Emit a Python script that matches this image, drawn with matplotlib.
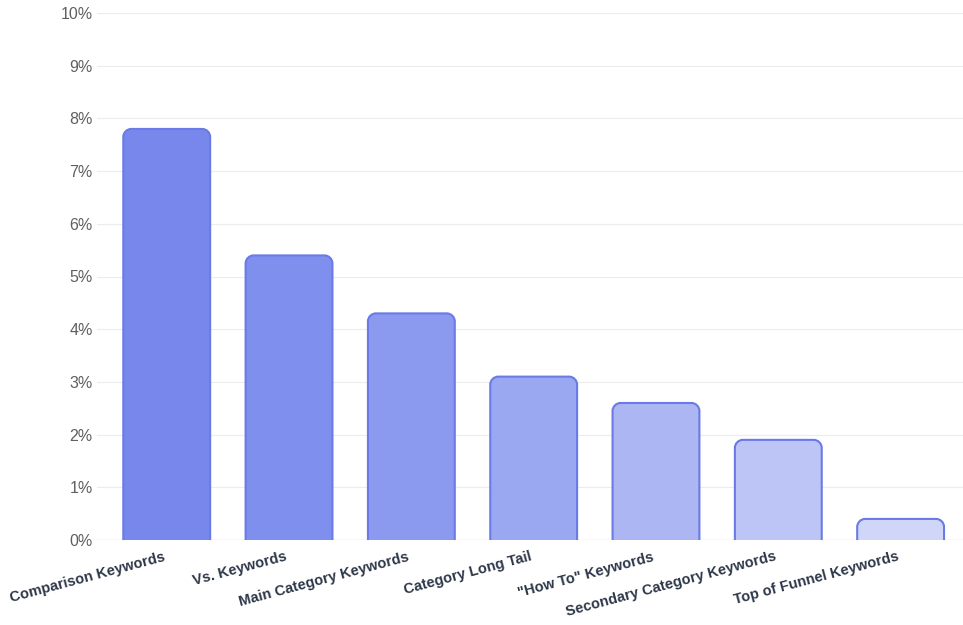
import matplotlib.pyplot as plt
import matplotlib.transforms as mtransforms
from matplotlib.path import Path
from matplotlib.patches import PathPatch

plt.rcParams["font.family"] = ["Liberation Sans", "DejaVu Sans"]

categories = ["Comparison Keywords", "Vs. Keywords", "Main Category Keywords",
              "Category Long Tail", "\"How To\" Keywords",
              "Secondary Category Keywords", "Top of Funnel Keywords"]
values = [7.8, 5.4, 4.3, 3.1, 2.6, 1.9, 0.4]
colors = ["#7787ec", "#7f8fee", "#8b9aef", "#9aa8f1", "#abb6f3", "#bcc5f5", "#d0d6f8"]

fig = plt.figure(figsize=(9.63, 6.25), dpi=100)
ax = fig.add_axes([97 / 963, 1 - 540 / 625, 866 / 963, 527 / 625])

ax.set_xlim(-0.57, 6.51)
ax.set_ylim(0, 10)

bars = ax.bar(range(len(values)), values, width=0.71, color="none", edgecolor="none")

# pixel -> data scale for rounded corners
px_x = (6.51 + 0.57) / 866
px_y = 10 / 527
r = 8
for b, c in zip(bars, colors):
    x0, w, h = b.get_x(), b.get_width(), b.get_height()
    x1 = x0 + w
    rx, ry = r * px_x, min(r * px_y, h)
    k = 0.55
    verts = [(x0, 0), (x0, h - ry),
             (x0, h - ry + k * ry), (x0 + rx - k * rx, h), (x0 + rx, h),
             (x1 - rx, h),
             (x1 - rx + k * rx, h), (x1, h - ry + k * ry), (x1, h - ry),
             (x1, 0)]
    codes = [Path.MOVETO, Path.LINETO,
             Path.CURVE4, Path.CURVE4, Path.CURVE4,
             Path.LINETO,
             Path.CURVE4, Path.CURVE4, Path.CURVE4,
             Path.LINETO]
    ax.add_patch(PathPatch(Path(verts, codes), facecolor=c, edgecolor="#6a7ae6",
                           linewidth=1.5, zorder=3))

ax.set_yticks(range(0, 11))
ax.set_yticklabels([f"{i}%" for i in range(0, 11)], fontsize=11.5, color="#5f5f5f")
ax.grid(axis="y", color="#ececec", linewidth=0.8, zorder=0)
ax.tick_params(axis="y", length=0, pad=3)
ax.tick_params(axis="x", length=0, pad=7)
for s in ax.spines.values():
    s.set_visible(False)
ax.axhline(0, color="#e2e2e2", linewidth=1, zorder=1)

ax.set_xticks(range(len(categories)))
labels = ax.set_xticklabels(categories, rotation=15, ha="right", rotation_mode="anchor",
                            fontsize=10.5, fontweight="bold", color="#2d3748")
shift = mtransforms.ScaledTranslation(-4 / 100, 0, fig.dpi_scale_trans)
for t in labels:
    t.set_transform(t.get_transform() + shift)

fig.savefig("out.png", dpi=100)
